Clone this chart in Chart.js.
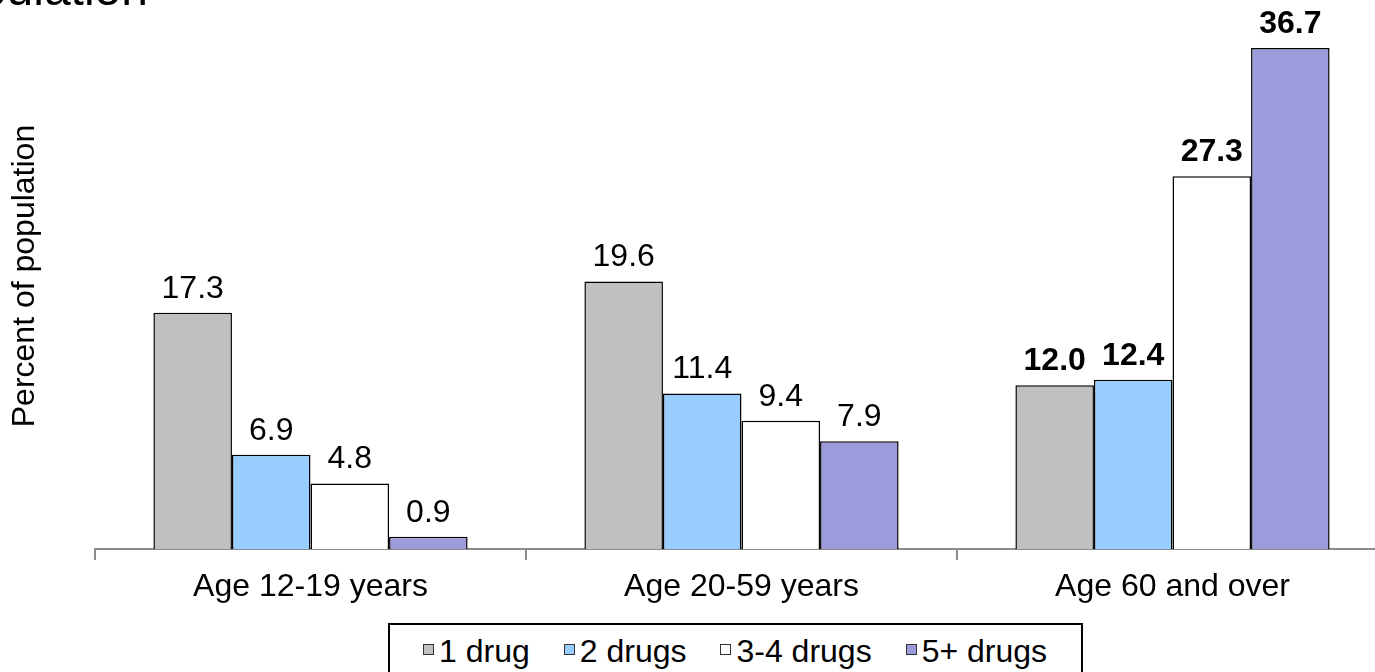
<!DOCTYPE html>
<html>
<head>
<meta charset="utf-8">
<script src="https://cdn.jsdelivr.net/npm/chart.js@4.4.1/dist/chart.umd.min.js"></script>
<style>
  html, body { margin: 0; padding: 0; background: #fff; overflow: hidden; width: 1375px; height: 672px; }
  #wrap { position: absolute; left: 0; top: 0; width: 1400px; height: 672px; }
  #legend {
    position: absolute; left: 388px; top: 623px; height: 70px;
    border: 2px solid #000; box-sizing: border-box; background: #fff;
    display: flex; align-items: center; justify-content: flex-start;
    font-family: "Liberation Sans", Arial, sans-serif; font-size: 32px; line-height: 36px; color: #000;
    padding: 8px 34px 0 33px; align-content: flex-start; align-items: flex-start;
  }
  .item { display: flex; align-items: center; margin-right: 34px; white-space: nowrap; height: 36px; }
  .item:last-child { margin-right: 0; }
  .sw { width: 11px; height: 11px; border: 1px solid #333; margin-right: 5px; box-sizing: border-box; position: relative; top: -2px; }
</style>
</head>
<body>
<div id="wrap"><canvas id="c" width="1400" height="672"></canvas></div>
<div id="legend"></div>
<script>
// Age groups and share of the population using 1, 2, 3-4 or 5+ prescription drugs
const ageGroups = ["Age 12-19 years", "Age 20-59 years", "Age 60 and over"];
const seriesNames = ["1 drug", "2 drugs", "3-4 drugs", "5+ drugs"];
const oneDrug = [17.3, 19.6, 12.0];
const twoDrugs = [6.9, 11.4, 12.4];
const threeFourDrugs = [4.8, 9.4, 27.3];
const fivePlusDrugs = [0.9, 7.9, 36.7];
const seriesColors = ["#C0C0C0", "#99CCFF", "#FFFFFF", "#9C9CDC"];

const FONT = '"Liberation Sans", Arial, sans-serif';
const seriesValues = [oneDrug, twoDrugs, threeFourDrugs, fivePlusDrugs];

// value labels above each bar; the oldest group is set in bold
const valueLabels = {
  id: 'valueLabels',
  afterDatasetsDraw(chart) {
    const ctx = chart.ctx;
    ctx.save();
    ctx.fillStyle = '#000';
    ctx.textAlign = 'center';
    ctx.textBaseline = 'alphabetic';
    chart.data.datasets.forEach((ds, di) => {
      const meta = chart.getDatasetMeta(di);
      meta.data.forEach((bar, i) => {
        ctx.font = (i === 2 ? 'bold ' : '') + '32px ' + FONT;
        ctx.fillText(ds.data[i].toFixed(1), bar.x, bar.y - 15);
      });
    });
    ctx.restore();
  }
};

// heading running off the top-left corner
const heading = {
  id: 'heading',
  afterDraw(chart) {
    const ctx = chart.ctx;
    ctx.save();
    ctx.fillStyle = '#000';
    ctx.font = '48px ' + FONT;
    ctx.textAlign = 'right';
    ctx.textBaseline = 'alphabetic';
    ctx.fillText('population', 148, 5);
    ctx.restore();
  }
};

new Chart(document.getElementById('c'), {
  type: 'bar',
  data: {
    labels: ageGroups,
    datasets: seriesNames.map((name, k) => ({
      label: name,
      data: seriesValues[k],
      backgroundColor: seriesColors[k],
      borderColor: '#000',
      borderWidth: 1.5,
      categoryPercentage: 0.729,
      barPercentage: 1.0
    }))
  },
  options: {
    responsive: false,
    animation: false,
    layout: { padding: { top: 3, right: 12, left: 0, bottom: 0 } },
    plugins: {
      legend: { display: false },
      title: { display: false },
      tooltip: { enabled: false }
    },
    scales: {
      x: {
        z: 1,
        grid: { display: true, drawOnChartArea: false, drawTicks: true, tickLength: 11, color: '#8c8c8c', lineWidth: 2, offset: true },
        border: { display: true, color: '#8c8c8c', width: 2 },
        ticks: { color: '#000', font: { family: FONT, size: 32 }, padding: 8 },
        afterFit(scale) { scale.height = 123; }
      },
      y: {
        min: 0,
        max: 40,
        grid: { display: false },
        border: { display: false },
        ticks: { display: false },
        title: {
          display: true,
          text: 'Percent of population',
          color: '#000',
          font: { family: FONT, size: 32 },
          padding: { top: 6, bottom: 0 }
        },
        afterFit(scale) { scale.width = 95; }
      }
    }
  },
  plugins: [valueLabels, heading]
});

// legend strip built from the series names and colours
const legend = document.getElementById('legend');
seriesNames.forEach((name, k) => {
  const item = document.createElement('div');
  item.className = 'item';
  const sw = document.createElement('span');
  sw.className = 'sw';
  sw.style.background = seriesColors[k];
  const tx = document.createElement('span');
  tx.textContent = name;
  item.appendChild(sw);
  item.appendChild(tx);
  legend.appendChild(item);
});
</script>
</body>
</html>
